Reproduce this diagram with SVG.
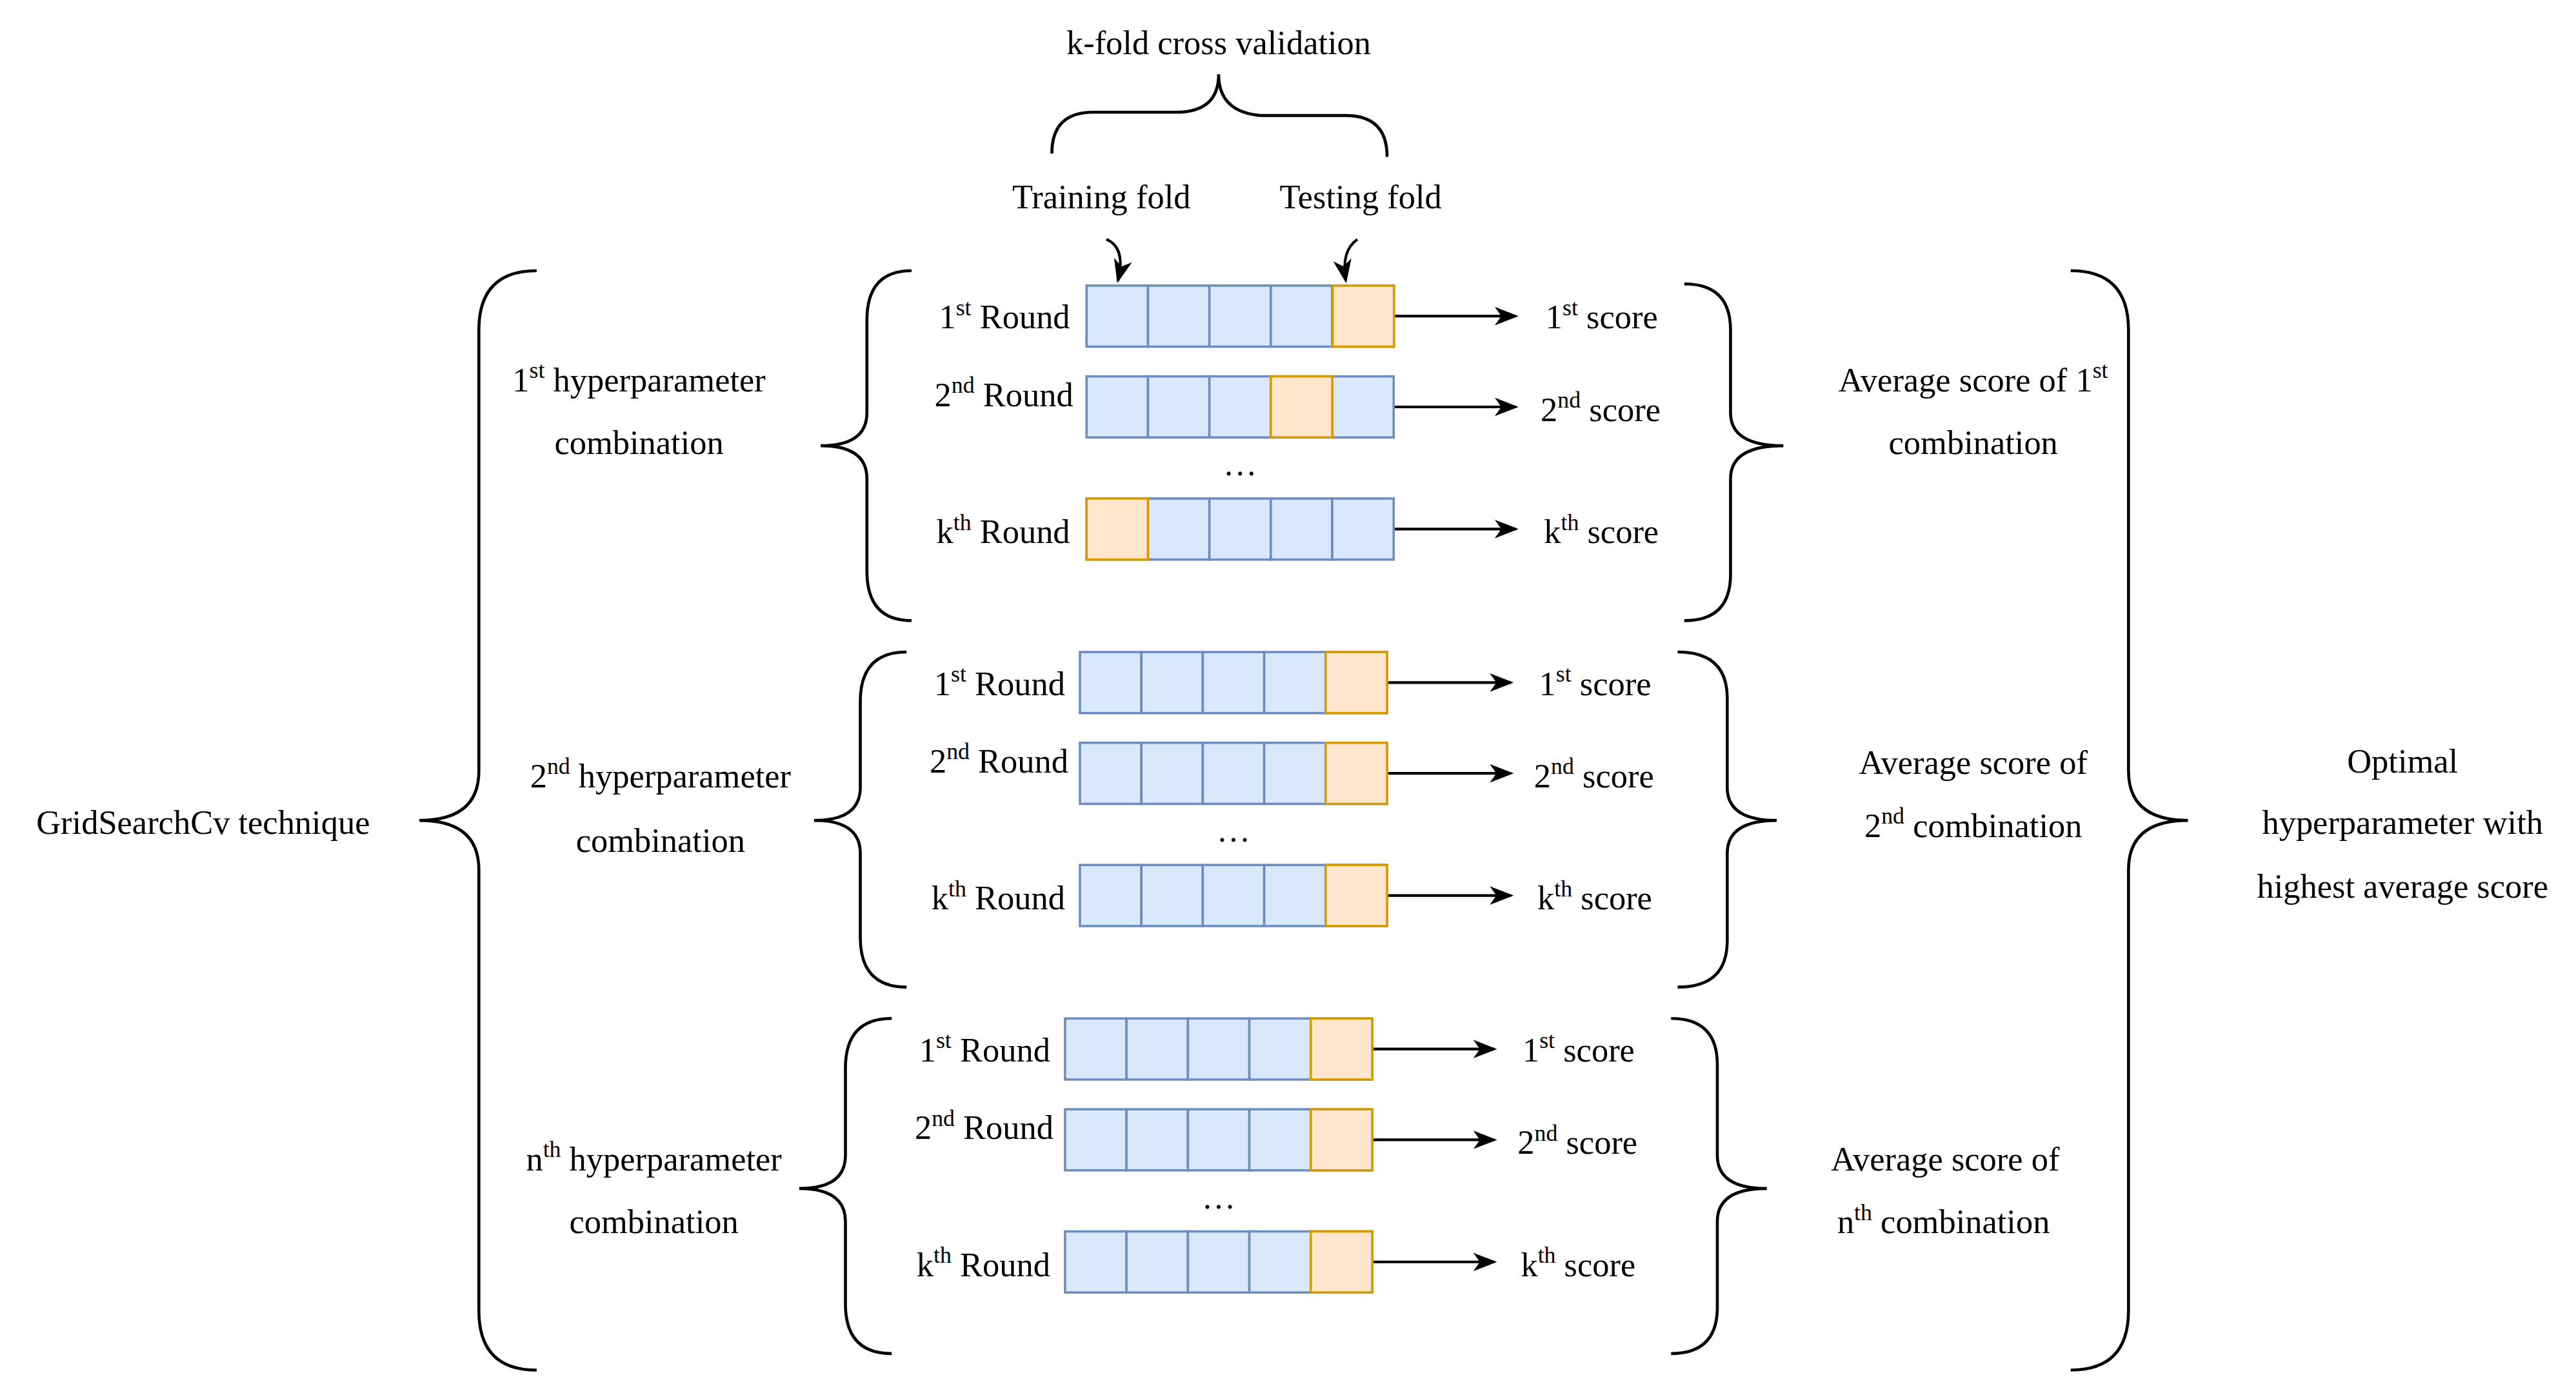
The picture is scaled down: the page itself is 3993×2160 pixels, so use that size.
<svg xmlns="http://www.w3.org/2000/svg" width="3993" height="2160" viewBox="0 0 3993 2160">
<style>
text{font-family:"Liberation Serif","Times New Roman",serif;font-size:20.5px;fill:#000}
.b{fill:#dae8fc;stroke:#6c8ebf;stroke-width:1.4}
.t{fill:#ffe6cc;stroke:#d79b00;stroke-width:1.4}
.br{fill:none;stroke:#000;stroke-width:1.8}
.ar{fill:none;stroke:#000;stroke-width:1.6;marker-end:url(#ah)}
.m{text-anchor:middle}
.e{text-anchor:end}
</style>
<defs>
<marker id="ah" markerWidth="9" markerHeight="7" refX="8" refY="3.5" orient="auto" markerUnits="strokeWidth"><path d="M0,0 L9,3.5 L0,7 L2.5,3.5 Z" fill="#000"/></marker>
<g id="row"><rect class="b" x="0" y="0" width="37.2" height="37"/><rect class="b" x="37.2" y="0" width="37.2" height="37"/><rect class="b" x="74.4" y="0" width="37.2" height="37"/><rect class="b" x="111.6" y="0" width="37.2" height="37"/><rect class="b" x="148.8" y="0" width="37.2" height="37"/></g>
</defs>
<rect width="3993" height="2160" fill="#fff"/>
<g transform="scale(2.5596)">
<g id="connectors">
<path class="br" d="M637 93 Q637 68 662 68 L712 68 Q738 68 738 45 Q738 68 764 70 L815 70 Q840 70 840 95"/>
<path class="ar" d="M670 145 Q682 150 677 170"/>
<path class="ar" d="M822 145 Q812 152 815 170"/>
<path class="ar" d="M844 191.5 L918 191.5"/>
<path class="ar" d="M844 246.5 L918 246.5"/>
<path class="ar" d="M844 320.5 L918 320.5"/>
<path class="ar" d="M840 413.5 L915 413.5"/>
<path class="ar" d="M840 468.5 L915 468.5"/>
<path class="ar" d="M840 542.5 L915 542.5"/>
<path class="ar" d="M831 635.5 L905 635.5"/>
<path class="ar" d="M831 690.5 L905 690.5"/>
<path class="ar" d="M831 764.5 L905 764.5"/>
<!-- braces -->
<path class="br" d="M552 164 Q525 164 525 194 L525 250 Q525 270 497 270 Q525 270 525 290 L525 346 Q525 376 552 376"/>
<path class="br" d="M1020 172 Q1048 172 1048 200 L1048 250 Q1048 270 1080 270 Q1048 270 1048 290 L1048 348 Q1048 376 1020 376"/>
<path class="br" d="M549 395 Q521 395 521 425 L521 477 Q521 497 493 497 Q521 497 521 517 L521 568 Q521 598 549 598"/>
<path class="br" d="M1016 395 Q1046 395 1046 423 L1046 477 Q1046 497 1076 497 Q1046 497 1046 517 L1046 570 Q1046 598 1016 598"/>
<path class="br" d="M540 617 Q512 617 512 647 L512 700 Q512 720 484 720 Q512 720 512 740 L512 790 Q512 820 540 820"/>
<path class="br" d="M1012 617 Q1040 617 1040 645 L1040 700 Q1040 720 1070 720 Q1040 720 1040 740 L1040 792 Q1040 820 1012 820"/>
<path class="br" d="M325 164 Q290 164 290 200 L290 467 Q290 497 254 497 Q290 497 290 527 L290 794 Q290 830 325 830"/>
<path class="br" d="M1254 164 Q1289 164 1289 200 L1289 467 Q1289 497 1325 497 Q1289 497 1289 527 L1289 794 Q1289 830 1254 830"/>
</g>
<g id="header"><text class="m" x="738" y="33">k-fold cross validation</text><text class="m" x="667" y="126">Training fold</text><text class="m" x="824" y="126">Testing fold</text></g>
<g id="combo1">
<use href="#row" x="658" y="173"/><rect class="t" x="807" y="173" width="37.2" height="37"/>
<use href="#row" x="658" y="228"/><rect class="t" x="769.6" y="228" width="37.2" height="37"/>
<use href="#row" x="658" y="302"/><rect class="t" x="658" y="302" width="37.2" height="37"/>
<text class="e" x="648" y="199">1<tspan font-size="14" dy="-8">st</tspan><tspan dy="8"> Round</tspan></text>
<text class="e" x="650" y="246">2<tspan font-size="14" dy="-8">nd</tspan><tspan dy="8"> Round</tspan></text>
<text class="m" x="751" y="288">…</text>
<text class="e" x="648" y="329">k<tspan font-size="14" dy="-8">th</tspan><tspan dy="8"> Round</tspan></text>
<text x="936" y="199">1<tspan font-size="14" dy="-8">st</tspan><tspan dy="8"> score</tspan></text>
<text x="933" y="255">2<tspan font-size="14" dy="-8">nd</tspan><tspan dy="8"> score</tspan></text>
<text x="935" y="329">k<tspan font-size="14" dy="-8">th</tspan><tspan dy="8"> score</tspan></text>
</g>
<g id="combo2">
<use href="#row" x="654" y="395"/><rect class="t" x="802.8" y="395" width="37.2" height="37"/>
<use href="#row" x="654" y="450"/><rect class="t" x="802.8" y="450" width="37.2" height="37"/>
<use href="#row" x="654" y="524"/><rect class="t" x="802.8" y="524" width="37.2" height="37"/>
<text class="e" x="645" y="421">1<tspan font-size="14" dy="-8">st</tspan><tspan dy="8"> Round</tspan></text>
<text class="e" x="647" y="468">2<tspan font-size="14" dy="-8">nd</tspan><tspan dy="8"> Round</tspan></text>
<text class="m" x="747" y="510">…</text>
<text class="e" x="645" y="551">k<tspan font-size="14" dy="-8">th</tspan><tspan dy="8"> Round</tspan></text>
<text x="932" y="421">1<tspan font-size="14" dy="-8">st</tspan><tspan dy="8"> score</tspan></text>
<text x="929" y="477">2<tspan font-size="14" dy="-8">nd</tspan><tspan dy="8"> score</tspan></text>
<text x="931" y="551">k<tspan font-size="14" dy="-8">th</tspan><tspan dy="8"> score</tspan></text>
</g>
<g id="combo3">
<use href="#row" x="645" y="617"/><rect class="t" x="793.8" y="617" width="37.2" height="37"/>
<use href="#row" x="645" y="672"/><rect class="t" x="793.8" y="672" width="37.2" height="37"/>
<use href="#row" x="645" y="746"/><rect class="t" x="793.8" y="746" width="37.2" height="37"/>
<text class="e" x="636" y="643">1<tspan font-size="14" dy="-8">st</tspan><tspan dy="8"> Round</tspan></text>
<text class="e" x="638" y="690">2<tspan font-size="14" dy="-8">nd</tspan><tspan dy="8"> Round</tspan></text>
<text class="m" x="738" y="732">…</text>
<text class="e" x="636" y="773">k<tspan font-size="14" dy="-8">th</tspan><tspan dy="8"> Round</tspan></text>
<text x="922" y="643">1<tspan font-size="14" dy="-8">st</tspan><tspan dy="8"> score</tspan></text>
<text x="919" y="699">2<tspan font-size="14" dy="-8">nd</tspan><tspan dy="8"> score</tspan></text>
<text x="921" y="773">k<tspan font-size="14" dy="-8">th</tspan><tspan dy="8"> score</tspan></text>
</g>
<g id="labels">
<text class="m" x="123" y="505">GridSearchCv technique</text>
<text class="m" x="387" y="237">1<tspan font-size="14" dy="-8">st</tspan><tspan dy="8"> hyperparameter</tspan></text>
<text class="m" x="387" y="275">combination</text>
<text class="m" x="400" y="477">2<tspan font-size="14" dy="-8">nd</tspan><tspan dy="8"> hyperparameter</tspan></text>
<text class="m" x="400" y="516">combination</text>
<text class="m" x="396" y="709">n<tspan font-size="14" dy="-8">th</tspan><tspan dy="8"> hyperparameter</tspan></text>
<text class="m" x="396" y="747">combination</text>
<text class="m" x="1195" y="237">Average score of 1<tspan font-size="14" dy="-8">st</tspan></text>
<text class="m" x="1195" y="275">combination</text>
<text class="m" x="1195" y="469">Average score of</text>
<text class="m" x="1195" y="507">2<tspan font-size="14" dy="-8">nd</tspan><tspan dy="8"> combination</tspan></text>
<text class="m" x="1178" y="709">Average score of</text>
<text class="m" x="1177" y="747">n<tspan font-size="14" dy="-8">th</tspan><tspan dy="8"> combination</tspan></text>
<text class="m" x="1455" y="468">Optimal</text>
<text class="m" x="1455" y="505">hyperparameter with</text>
<text class="m" x="1455" y="544">highest average score</text>
</g>
</g>
</svg>
